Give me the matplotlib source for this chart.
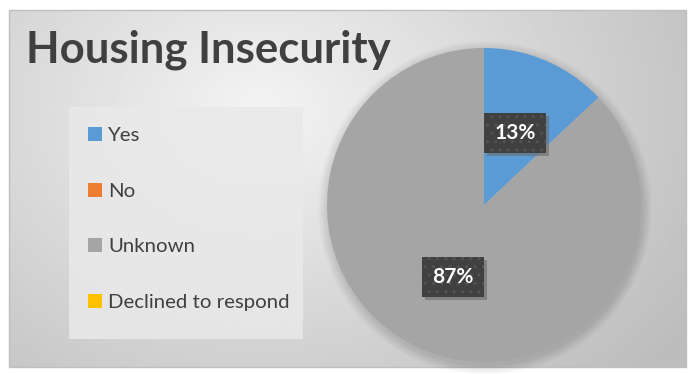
import numpy as np
import matplotlib
matplotlib.use("Agg")
import matplotlib.pyplot as plt
from matplotlib.patches import Rectangle, Circle

plt.rcParams['font.family'] = ['Lato', 'DejaVu Sans']
plt.rcParams['hatch.color'] = '#535353'
plt.rcParams['hatch.linewidth'] = 1.0

# data
categories = ['Yes', 'No', 'Unknown', 'Declined to respond']
values = [13, 0, 87, 0]
colors = ['#5b9bd5', '#ed7d31', '#a5a5a5', '#ffc000']
title = 'Housing Insecurity'

W, H = 692, 374
fig = plt.figure(figsize=(W / 100, H / 100), dpi=100)
fig.patch.set_facecolor('white')

# background with radial gradient
bg = fig.add_axes([0, 0, 1, 1])
bg.set_xlim(0, W)
bg.set_ylim(H, 0)
bg.axis('off')
x0, y0, x1, y1 = 9, 10, 686, 367
xx, yy = np.meshgrid(np.linspace(x0, x1, 400), np.linspace(y0, y1, 220))
r = np.sqrt(((xx - 260) / 430) ** 2 + ((yy - 110) / 330) ** 2)
shade = 0.955 - 0.18 * np.clip(r, 0, 1.2)
bg.imshow(shade, cmap='gray', vmin=0, vmax=1, extent=(x0, x1, y1, y0),
          aspect='auto', interpolation='bilinear')
bg.add_patch(Rectangle((x0, y0), x1 - x0, y1 - y0, fill=False,
                       edgecolor='#bfbfbf', linewidth=1))

# soft pie shadow
cx, cy, rad = 484, 205, 157
for k in range(10):
    bg.add_patch(Circle((cx + 1, cy + 3), rad + 10 - k, color='black',
                        alpha=0.01, linewidth=0))

bg.text(26, 50, title, fontsize=31.5, fontweight='bold', color='#404040',
        va='center', ha='left')

# legend box
bg.add_patch(Rectangle((69, 107), 234, 232, facecolor='#e9e9e9',
                       edgecolor='none', alpha=0.85))

# pie
ax = fig.add_axes([(cx - rad) / W, (H - cy - rad) / H, 2 * rad / W, 2 * rad / H])
wedges, texts, autotexts = ax.pie(
    values, colors=colors, startangle=90, counterclock=False,
    autopct=lambda p: f'{p:.0f}%' if p > 0 else '', pctdistance=0.5,
    wedgeprops=dict(linewidth=0))
ax.set_xlim(-1, 1)
ax.set_ylim(-1, 1)
ax.set_aspect('equal')
ax.axis('off')

labels_on = []
for t in autotexts:
    if t.get_text() == '':
        continue
    t.set_color('white')
    t.set_fontsize(15)
    t.set_fontweight('bold')
    t.set_zorder(5)
    t.set_bbox(dict(boxstyle='square,pad=0.5', facecolor='#404040',
                    edgecolor='#535353', linewidth=0, hatch='..'))
    labels_on.append(t)

# drop shadow under the label boxes
fig.canvas.draw()
for t in labels_on:
    bb = t.get_bbox_patch().get_window_extent()
    ax.add_patch(Rectangle((bb.x0 + 3, bb.y0 - 3), bb.width, bb.height,
                           transform=None, facecolor='#6a6a6a',
                           edgecolor='none', alpha=0.6, zorder=4))

leg = fig.legend(wedges, categories, loc='upper left',
                 bbox_to_anchor=(78 / W, 1 - 117 / H), frameon=False,
                 fontsize=14.7, labelcolor='#404040', handlelength=0.68,
                 handleheight=0.68, handletextpad=0.3, labelspacing=1.88,
                 borderpad=0)

fig.savefig('out.png', dpi=100)
